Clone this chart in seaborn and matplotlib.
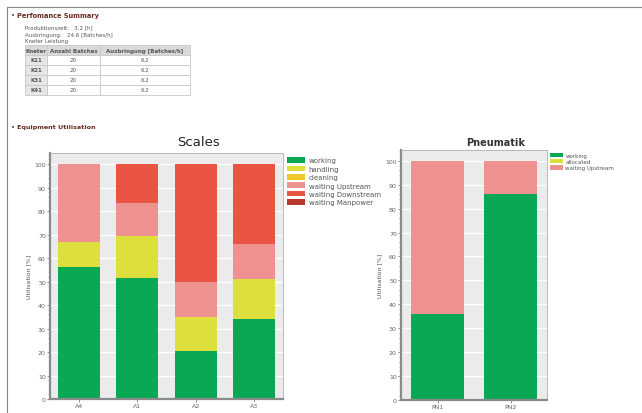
import numpy as np
import pandas as pd
import matplotlib
matplotlib.use("Agg")
from matplotlib import pyplot as plt
from matplotlib.patches import Patch
from matplotlib.ticker import MultipleLocator
import seaborn as sns

# data
scales_units = ["A4", "A1", "A2", "A3"]
scales_states = ["working", "handling", "cleaning", "waiting Upstream", "waiting Downstream", "waiting Manpower"]
scales_working = [56, 51.5, 20.5, 34]
scales_handling = [11, 18, 14.5, 17]
scales_cleaning = [0, 0, 0, 0]
scales_wait_up = [33, 14, 15, 15]
scales_wait_down = [0, 16.5, 50, 34]
scales_wait_man = [0, 0, 0, 0]

pneu_units = ["PN1", "PN2"]
pneu_states = ["working", "allocated", "waiting Upstream"]
pneu_working = [36, 86]
pneu_allocated = [0, 0]
pneu_wait_up = [64, 14]

kneter = ["K11", "K21", "K31", "K41"]
anzahl = [20, 20, 20, 20]
ausbringung = [6.2, 6.2, 6.2, 6.2]

colors = {"working": "#0aa854", "handling": "#dde03c", "cleaning": "#efc62c",
          "allocated": "#dde03c", "waiting Upstream": "#ee9191",
          "waiting Downstream": "#ea5444", "waiting Manpower": "#b8392e"}

W, H = 642, 414
fig = plt.figure(figsize=(W / 100, H / 100), dpi=100)
fig.patch.set_facecolor("white")


def px(x, y, w, h):
    return [x / W, 1 - (y + h) / H, w / W, h / H]


# page frame lines
fig.add_artist(plt.Line2D([7 / W, 1], [1 - 8 / H, 1 - 8 / H], color="#888888", lw=0.8))
fig.add_artist(plt.Line2D([7 / W, 7 / W], [0, 1 - 8 / H], color="#888888", lw=0.8))

head_col = "#6a2a20"
fig.text(11 / W, 1 - 16 / H, "• ", fontsize=5, color="#444444", va="center")
fig.text(17 / W, 1 - 16 / H, "Perfomance Summary", fontsize=4.8, weight="bold", color=head_col, va="center")
fig.text(25 / W, 1 - 28 / H, "Produktionszeit:   3.2 [h]", fontsize=4, color="#555555", va="center")
fig.text(25 / W, 1 - 35 / H, "Ausbringung:   24.6 [Batches/h]", fontsize=4, color="#555555", va="center")
fig.text(25 / W, 1 - 42 / H, "Kneter Leistung", fontsize=4, color="#555555", va="center")

# table
tab_ax = fig.add_axes(px(25, 46, 165, 50))
tab_ax.axis("off")
cells = [[k, str(a), str(b)] for k, a, b in zip(kneter, anzahl, ausbringung)]
tbl = tab_ax.table(cellText=cells, colLabels=["Kneter", "Anzahl Batches", "Ausbringung [Batches/h]"],
                   colWidths=[22 / 165, 53 / 165, 90 / 165], bbox=[0, 0, 1, 1], cellLoc="center")
tbl.auto_set_font_size(False)
for (r, c), cell in tbl.get_celld().items():
    cell.set_edgecolor("#c8c8c8")
    cell.set_linewidth(0.6)
    cell.get_text().set_fontsize(4)
    cell.get_text().set_color("#555555")
    if r == 0:
        cell.set_facecolor("#d9d9d9")
        cell.get_text().set_weight("bold")
    elif c == 0:
        cell.set_facecolor("#e6e6e6")
        cell.get_text().set_weight("bold")
    else:
        cell.set_facecolor("white")

fig.text(11 / W, 1 - 128 / H, "• ", fontsize=5, color="#444444", va="center")
fig.text(17 / W, 1 - 128 / H, "Equipment Utilisation", fontsize=4.6, weight="bold", color=head_col, va="center")


def stacked(ax, units, states, layers, ytop):
    df = pd.DataFrame(dict(zip(states, layers)), index=units)
    cum = df.cumsum(axis=1)
    ax.set_facecolor("#ebebeb")
    ax.grid(True, which="major", color="white", lw=1.0)
    ax.set_axisbelow(True)
    # draw from top layer down so lower ones cover upper ones
    for st in states[::-1]:
        d = pd.DataFrame({"unit": units, "val": cum[st].values})
        sns.barplot(data=d, x="unit", y="val", color=colors[st], width=0.72,
                    saturation=1, ax=ax, edgecolor="none", zorder=2)
    ax.set_xlim(-0.5, len(units) - 0.5)
    ax.set_ylim(0, ytop)
    ax.yaxis.set_major_locator(MultipleLocator(10))
    ax.yaxis.set_minor_locator(MultipleLocator(2))
    ax.tick_params(axis="both", labelsize=4.5, colors="#666666", length=2, width=0.5, pad=1)
    ax.tick_params(axis="y", which="minor", length=1.2, width=0.4, colors="#999999")
    ax.set_xlabel("")
    ax.set_ylabel("Utilisation [%]", fontsize=4.5, color="#555555", labelpad=2)
    for s in ["top", "right"]:
        ax.spines[s].set_color("#b0b0b0")
        ax.spines[s].set_linewidth(0.6)
    for s in ["left", "bottom"]:
        ax.spines[s].set_color("#8a8a8a")
        ax.spines[s].set_linewidth(1.6)


ax1 = fig.add_axes(px(50, 154, 233, 246))
stacked(ax1, scales_units, scales_states,
        [scales_working, scales_handling, scales_cleaning, scales_wait_up, scales_wait_down, scales_wait_man], 104.7)
fig.text(198 / W, 1 - 143 / H, "Scales", fontsize=9.5, ha="center", va="center", color="#222222")
h1 = [Patch(facecolor=colors[s], label=s) for s in scales_states]
ax1.legend(handles=h1, loc="upper left", bbox_to_anchor=(1.0, 1.0), frameon=False, fontsize=5,
           handlelength=2.6, handleheight=0.9, handletextpad=0.5, labelspacing=0.3,
           borderaxespad=0.2, labelcolor="#555555")

ax2 = fig.add_axes(px(401, 151, 146, 250))
stacked(ax2, pneu_units, pneu_states, [pneu_working, pneu_allocated, pneu_wait_up], 104.5)
fig.text(496 / W, 1 - 143 / H, "Pneumatik", fontsize=7, weight="bold", ha="center", va="center", color="#333333")
h2 = [Patch(facecolor=colors[s], label=s) for s in pneu_states]
ax2.legend(handles=h2, loc="upper left", bbox_to_anchor=(1.0, 1.0), frameon=False, fontsize=4,
           handlelength=2.4, handleheight=0.9, handletextpad=0.4, labelspacing=0.15,
           borderaxespad=0.1, labelcolor="#555555")

fig.savefig("out.png", dpi=100)
